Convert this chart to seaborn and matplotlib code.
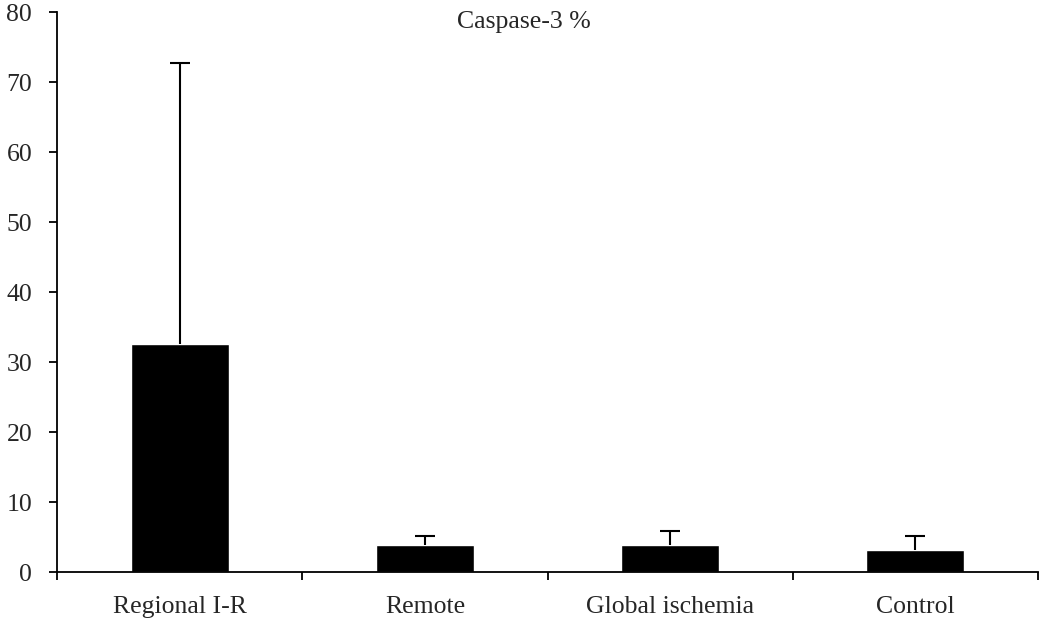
import numpy as np
import pandas as pd
import matplotlib
matplotlib.use("Agg")
import matplotlib.pyplot as plt
import seaborn as sns


# Data

groups = ["Regional I-R", "Remote", "Global ischemia", "Control"]
means = [32.6, 3.9, 3.9, 3.2]
upper_err = [40.1, 1.3, 2.0, 2.0]

title = "Caspase-3 %"
y_ticks = [0, 10, 20, 30, 40, 50, 60, 70, 80]


sns.set_style("white")
plt.rcParams["font.family"] = ["Liberation Serif", "DejaVu Serif"]
plt.rcParams["font.size"] = 18.5

df = pd.DataFrame({"Group": groups, "Value": means})

fig = plt.figure(figsize=(10.39, 6.18), dpi=100)
ax = fig.add_axes([0.055, 0.074, 0.944, 0.906])

sns.barplot(
    data=df,
    x="Group",
    y="Value",
    color="black",
    width=0.4,
    saturation=1,
    errorbar=None,
    ax=ax
)

# one-sided error bars (upper only)
_, caps, _ = ax.errorbar(
    np.arange(len(groups)),
    means,
    yerr=[np.zeros(len(groups)), upper_err],
    fmt="none",
    ecolor="black",
    elinewidth=1.5,
    capsize=7,
    capthick=1.5
)
caps[0].set_visible(False)

ax.set_xlim(-0.5, len(groups) - 0.5)
ax.set_ylim(0, 80)
ax.set_yticks(y_ticks)

ax.set_xlabel("")
ax.set_ylabel("")

# ticks between categories on the x axis
ax.set_xticks(np.arange(-0.5, len(groups)), minor=True)
ax.tick_params(axis="x", which="major", length=0, pad=17, labelsize=18.5)
ax.tick_params(axis="x", which="minor", length=6, width=1.3, direction="out", color="black", bottom=True)
ax.tick_params(axis="y", length=6, width=1.3, direction="out", color="black", left=True, pad=12, labelsize=18.5)

sns.despine(ax=ax)
for side in ["left", "bottom"]:
    ax.spines[side].set_color("black")
    ax.spines[side].set_linewidth(1.3)

fig.text(0.504, 0.965, title, ha="center", va="center", fontsize=18.5)

plt.savefig("out.png", dpi=100)
plt.close()
